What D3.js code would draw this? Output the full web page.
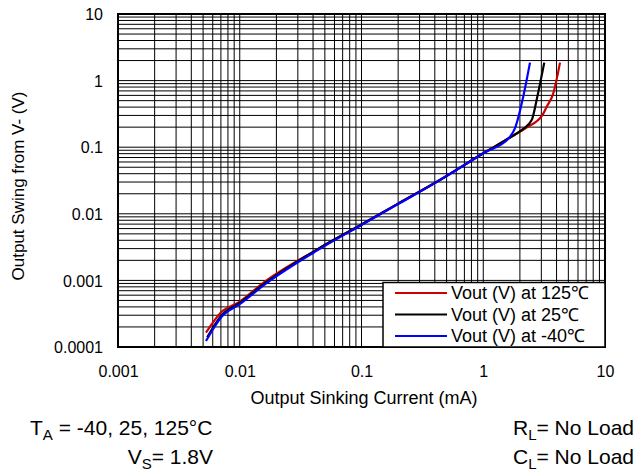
<!DOCTYPE html>
<html>
<head>
<meta charset="utf-8">
<script src="https://cdn.jsdelivr.net/npm/d3@7"></script>
<style>
  body { margin: 0; background: #fff; }
  svg { display: block; font-family: Arial, "Liberation Sans", sans-serif; }
</style>
</head>
<body>
<svg id="chart" width="641" height="472"></svg>
<script>
'use strict';

// Output sinking current (mA) / output swing from V- (V)
var current125 = [0.00528, 0.0070, 0.010, 0.0156, 0.043, 0.1, 0.2, 0.44, 1.0, 1.66, 2.28, 3.05, 3.32, 3.76, 4.27];
var vout125    = [0.000164, 0.00033, 0.00048, 0.00092, 0.0029, 0.0069, 0.0142, 0.0322, 0.081, 0.140, 0.199, 0.30, 0.405, 0.644, 1.86];

var current25 = [0.0054, 0.0071, 0.010, 0.016, 0.043, 0.1, 0.2, 0.44, 1.0, 1.66, 2.1, 2.5, 2.78, 3.17];
var vout25    = [0.00014, 0.0003, 0.00046, 0.0009, 0.0029, 0.0069, 0.0142, 0.0322, 0.081, 0.140, 0.185, 0.256, 0.573, 1.86];

var currentM40 = [0.00528, 0.0071, 0.010, 0.0165, 0.043, 0.1, 0.2, 0.44, 1.0, 1.66, 1.82, 2.13, 2.42];
var voutM40    = [0.000123, 0.000285, 0.00044, 0.0009, 0.0028, 0.0068, 0.014, 0.032, 0.081, 0.144, 0.192, 0.573, 1.86];

var seriesNames = ['Vout (V) at 125\u2103', 'Vout (V) at 25\u2103', 'Vout (V) at -40\u2103'];
var seriesColors = ['#cc0000', '#000000', '#0000ff'];

var xTicks = [0.001, 0.01, 0.1, 1, 10];
var xTickLabels = ['0.001', '0.01', '0.1', '1', '10'];
var yTicks = [0.0001, 0.001, 0.01, 0.1, 1, 10];
var yTickLabels = ['0.0001', '0.001', '0.01', '0.1', '1', '10'];

var svg = d3.select('#chart');

var plot = { left: 118, right: 605, top: 14, bottom: 347 };

var x = d3.scaleLog().domain([0.001, 10]).range([plot.left, plot.right]);
var y = d3.scaleLog().domain([0.0001, 10]).range([plot.bottom, plot.top]);

/**
 * 1..9 x every decade of a log domain.
 */
function minorTicks(lo, hi) {
  var out = [], d, k;
  for (d = lo; d < hi * 0.999; d *= 10) {
    for (k = 1; k <= 9; k++) { out.push(d * k); }
  }
  out.push(hi);
  return out;
}

var grid = svg.append('g').attr('class', 'grid')
  .attr('stroke', '#000').attr('stroke-width', 1);

grid.selectAll('line.v')
  .data(minorTicks(0.001, 10))
  .enter().append('line')
    .attr('class', 'v')
    .attr('x1', function (d) { return x(d); })
    .attr('x2', function (d) { return x(d); })
    .attr('y1', plot.top)
    .attr('y2', plot.bottom);

grid.selectAll('line.h')
  .data(minorTicks(0.0001, 10))
  .enter().append('line')
    .attr('class', 'h')
    .attr('x1', plot.left)
    .attr('x2', plot.right)
    .attr('y1', function (d) { return y(d); })
    .attr('y2', function (d) { return y(d); });

// curves, blue drawn last so it sits on top
var series = [
  { xs: current125, ys: vout125 },
  { xs: current25, ys: vout25 },
  { xs: currentM40, ys: voutM40 }
];

var line = d3.line()
  .x(function (d) { return x(d[0]); })
  .y(function (d) { return y(d[1]); })
  .curve(d3.curveMonotoneX);

svg.append('g').attr('class', 'curves')
  .selectAll('path')
  .data(series)
  .enter().append('path')
    .attr('d', function (s) { return line(d3.zip(s.xs, s.ys)); })
    .attr('fill', 'none')
    .attr('stroke', function (s, i) { return seriesColors[i]; })
    .attr('stroke-width', 2.2)
    .attr('stroke-linejoin', 'round');

// frame
svg.append('rect')
  .attr('x', plot.left).attr('y', plot.top)
  .attr('width', plot.right - plot.left)
  .attr('height', plot.bottom - plot.top)
  .attr('fill', 'none').attr('stroke', '#000').attr('stroke-width', 2);

// axes, labels only
var xAxis = d3.axisBottom(x).tickValues(xTicks)
  .tickFormat(function (d, i) { return xTickLabels[i]; })
  .tickSize(0).tickPadding(0);
var xg = svg.append('g')
  .attr('transform', 'translate(0,' + plot.bottom + ')')
  .call(xAxis);
xg.select('.domain').remove();
xg.selectAll('text')
  .attr('dy', 0).attr('y', 30)
  .attr('fill', '#000')
  .style('font-size', '16px').style('font-family', 'Arial, "Liberation Sans", sans-serif');

var yAxis = d3.axisLeft(y).tickValues(yTicks)
  .tickFormat(function (d, i) { return yTickLabels[i]; })
  .tickSize(0).tickPadding(0);
var yg = svg.append('g')
  .attr('transform', 'translate(103,0)')
  .call(yAxis);
yg.select('.domain').remove();
yg.selectAll('text')
  .attr('x', 0).attr('dy', '0.35em')
  .attr('fill', '#000')
  .style('font-size', '16px').style('font-family', 'Arial, "Liberation Sans", sans-serif');

// axis titles
svg.append('text')
  .attr('x', 364).attr('y', 404)
  .attr('text-anchor', 'middle')
  .style('font-size', '18px')
  .text('Output Sinking Current (mA)');

svg.append('text')
  .attr('transform', 'translate(24,186) rotate(-90)')
  .attr('text-anchor', 'middle')
  .style('font-size', '17px')
  .text('Output Swing from V- (V)');

// legend
var legend = svg.append('g').attr('class', 'legend');
legend.append('rect')
  .attr('x', 383).attr('y', 282.5)
  .attr('width', 222).attr('height', 64.5)
  .attr('fill', '#fff').attr('stroke', '#000').attr('stroke-width', 1.5);

var rows = legend.selectAll('g.row')
  .data(seriesNames)
  .enter().append('g')
    .attr('class', 'row')
    .attr('transform', function (d, i) { return 'translate(0,' + (293 + i * 21.5) + ')'; });

rows.append('line')
  .attr('x1', 395).attr('x2', 447)
  .attr('stroke', function (d, i) { return seriesColors[i]; })
  .attr('stroke-width', 2.2);

rows.append('text')
  .attr('x', 451).attr('dy', '0.35em')
  .style('font-size', '18px')
  .text(function (d) { return d; });

// test conditions
function condition(xPos, yPos, anchor, main, sub, rest) {
  var t = svg.append('text')
    .attr('x', xPos).attr('y', yPos)
    .attr('text-anchor', anchor)
    .style('font-size', '21px');
  t.append('tspan').text(main);
  t.append('tspan').attr('dy', 5).style('font-size', '15px').text(sub);
  t.append('tspan').attr('dy', -5).text(rest);
}

condition(30, 435, 'start', 'T', 'A', ' = -40, 25, 125\u00b0C');
condition(213, 464, 'end', 'V', 'S', '= 1.8V');
condition(513, 435, 'start', 'R', 'L', '= No Load');
condition(513, 464, 'start', 'C', 'L', '= No Load');
</script>
</body>
</html>
